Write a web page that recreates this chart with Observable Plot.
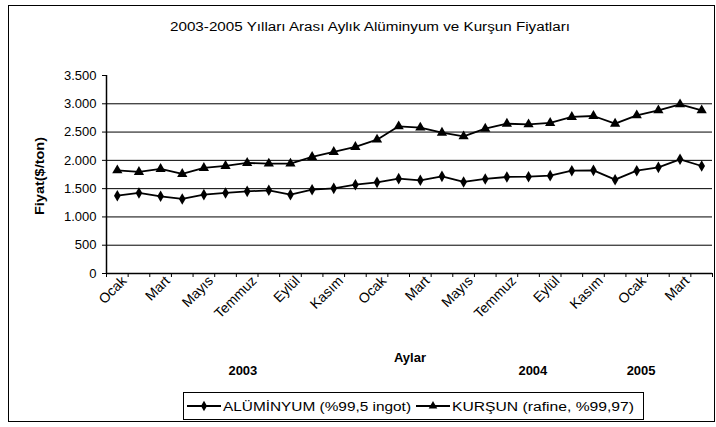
<!DOCTYPE html>
<html>
<head>
<meta charset="utf-8">
<script src="https://cdn.jsdelivr.net/npm/d3@7"></script>
<script src="https://cdn.jsdelivr.net/npm/@observablehq/plot@0.6"></script>
<style>
  html, body { margin: 0; padding: 0; background: #fff; }
  svg { display: block; }
</style>
</head>
<body>
<div id="chart"></div>
<script>
// ---- data ----
const aylar = ["Ocak","Şubat","Mart","Nisan","Mayıs","Haziran","Temmuz","Ağustos","Eylül","Ekim","Kasım","Aralık",
               "Ocak","Şubat","Mart","Nisan","Mayıs","Haziran","Temmuz","Ağustos","Eylül","Ekim","Kasım","Aralık",
               "Ocak","Şubat","Mart","Nisan"];
const yillar = ["2003","2004","2005"];
const yilKonum = [6.3, 19.7, 24.7];
const aluminyum = [1376,1424,1364,1318,1394,1424,1452,1470,1394,1482,1505,1570,1611,1677,1647,1717,1618,1671,1706,1712,1730,1818,1823,1659,1818,1876,2018,1900];
const kursun    = [1823,1795,1848,1760,1866,1901,1954,1942,1942,2060,2148,2237,2366,2601,2578,2489,2424,2560,2648,2636,2661,2767,2784,2648,2795,2883,2990,2883];
const yTicks = [0,500,1000,1500,2000,2500,3000,3500];
const seriesNames = ["ALÜMİNYUM (%99,5 ingot)", "KURŞUN (rafine, %99,97)"];

const al = aluminyum.map((v,i) => ({i: i + 0.5, v}));
const ku = kursun.map((v,i) => ({i: i + 0.5, v}));
const labelTicks = aylar.map((m,i) => i).filter(i => i % 2 === 0).map(i => i + 0.5);
const years = yillar.map((y,k) => ({x: yilKonum[k], y}));

const trFmt = d3.formatLocale({decimal: ",", thousands: ".", grouping: [3], currency: ["", ""]}).format(",");
const FONT = "Liberation Sans, Arial, sans-serif";

const W = 716, H = 427;
const plot = Plot.plot({
  width: W, height: H,
  marginLeft: 106, marginRight: 4, marginTop: 75, marginBottom: 154,
  style: {fontFamily: FONT, fontSize: "11px", color: "#000", background: "#fff"},
  x: {type: "linear", domain: [0, aylar.length]},
  y: {domain: [0, 3500]},
  marks: [
    Plot.ruleY(yTicks.filter(d => d > 0 && d < 3500), {stroke: "#000", strokeWidth: 1}),
    Plot.ruleY([0], {stroke: "#000", strokeWidth: 1.5}),
    Plot.ruleX([0], {y1: 0, y2: 3500, stroke: "#000", strokeWidth: 1.5}),
    Plot.axisY({ticks: yTicks, tickFormat: trFmt, tickSize: 4, tickPadding: 6, fontSize: 13, label: null}),
    Plot.axisX({ticks: d3.range(0, aylar.length + 1), tickFormat: () => "", tickSize: 4, label: null}),
    Plot.axisX({ticks: labelTicks, tickFormat: d => aylar[Math.floor(d)], tickSize: 0, tickPadding: 5, dx: 7, tickRotate: -45, fontSize: 14, label: null}),
    Plot.line(al, {x: "i", y: "v", stroke: "#000", strokeWidth: 1.8}),
    Plot.line(ku, {x: "i", y: "v", stroke: "#000", strokeWidth: 1.8}),
    Plot.dot(al, {x: "i", y: "v", symbol: "diamond", r: 3.5, fill: "#000"}),
    Plot.dot(ku, {x: "i", y: "v", symbol: "triangle", r: 3.8, fill: "#000"}),
    Plot.text(years, {x: "x", text: "y", frameAnchor: "bottom", dy: 101, fontWeight: "bold", fontSize: 13}),
  ]
});

const svg = d3.select(plot);
// outer border
svg.append("rect").attr("x", 8.5).attr("y", 5.5).attr("width", 706).attr("height", 416)
  .attr("fill", "none").attr("stroke", "#000").attr("stroke-width", 1);
// title
svg.append("text").attr("x", 370).attr("y", 31).attr("text-anchor", "middle")
  .attr("font-family", FONT).attr("font-size", 12)
  .attr("textLength", 400).attr("lengthAdjust", "spacingAndGlyphs")
  .text("2003-2005 Yılları Arası Aylık Alüminyum ve Kurşun Fiyatları");
// y label
svg.append("text").attr("transform", "translate(44,176) rotate(-90)").attr("text-anchor", "middle")
  .attr("font-family", FONT).attr("font-size", 13).attr("font-weight", "bold")
  .attr("textLength", 78).attr("lengthAdjust", "spacingAndGlyphs").text("Fiyat($/ton)");
// x label
svg.append("text").attr("x", 410).attr("y", 362).attr("text-anchor", "middle")
  .attr("font-family", FONT).attr("font-size", 13).attr("font-weight", "bold").text("Aylar");
// legend
const lg = svg.append("g").attr("font-family", FONT).attr("font-size", 12.5).attr("text-anchor", "start");
lg.append("rect").attr("x", 183.5).attr("y", 392.5).attr("width", 460).attr("height", 27)
  .attr("fill", "#fff").attr("stroke", "#000");
const items = [
  {x: 187, w: 188, sym: d3.symbolDiamond, name: seriesNames[0]},
  {x: 416, w: 182, sym: d3.symbolTriangle, name: seriesNames[1]}
];
items.forEach(it => {
  lg.append("line").attr("x1", it.x).attr("x2", it.x + 34).attr("y1", 406).attr("y2", 406)
    .attr("stroke", "#000").attr("stroke-width", 1.8);
  lg.append("path").attr("d", d3.symbol(it.sym, 32)()).attr("transform", `translate(${it.x + 17},406)`).attr("fill", "#000");
  lg.append("text").attr("x", it.x + 36).attr("y", 410.5)
    .attr("textLength", it.w).attr("lengthAdjust", "spacingAndGlyphs").text(it.name);
});

document.getElementById("chart").appendChild(plot);
</script>
</body>
</html>
